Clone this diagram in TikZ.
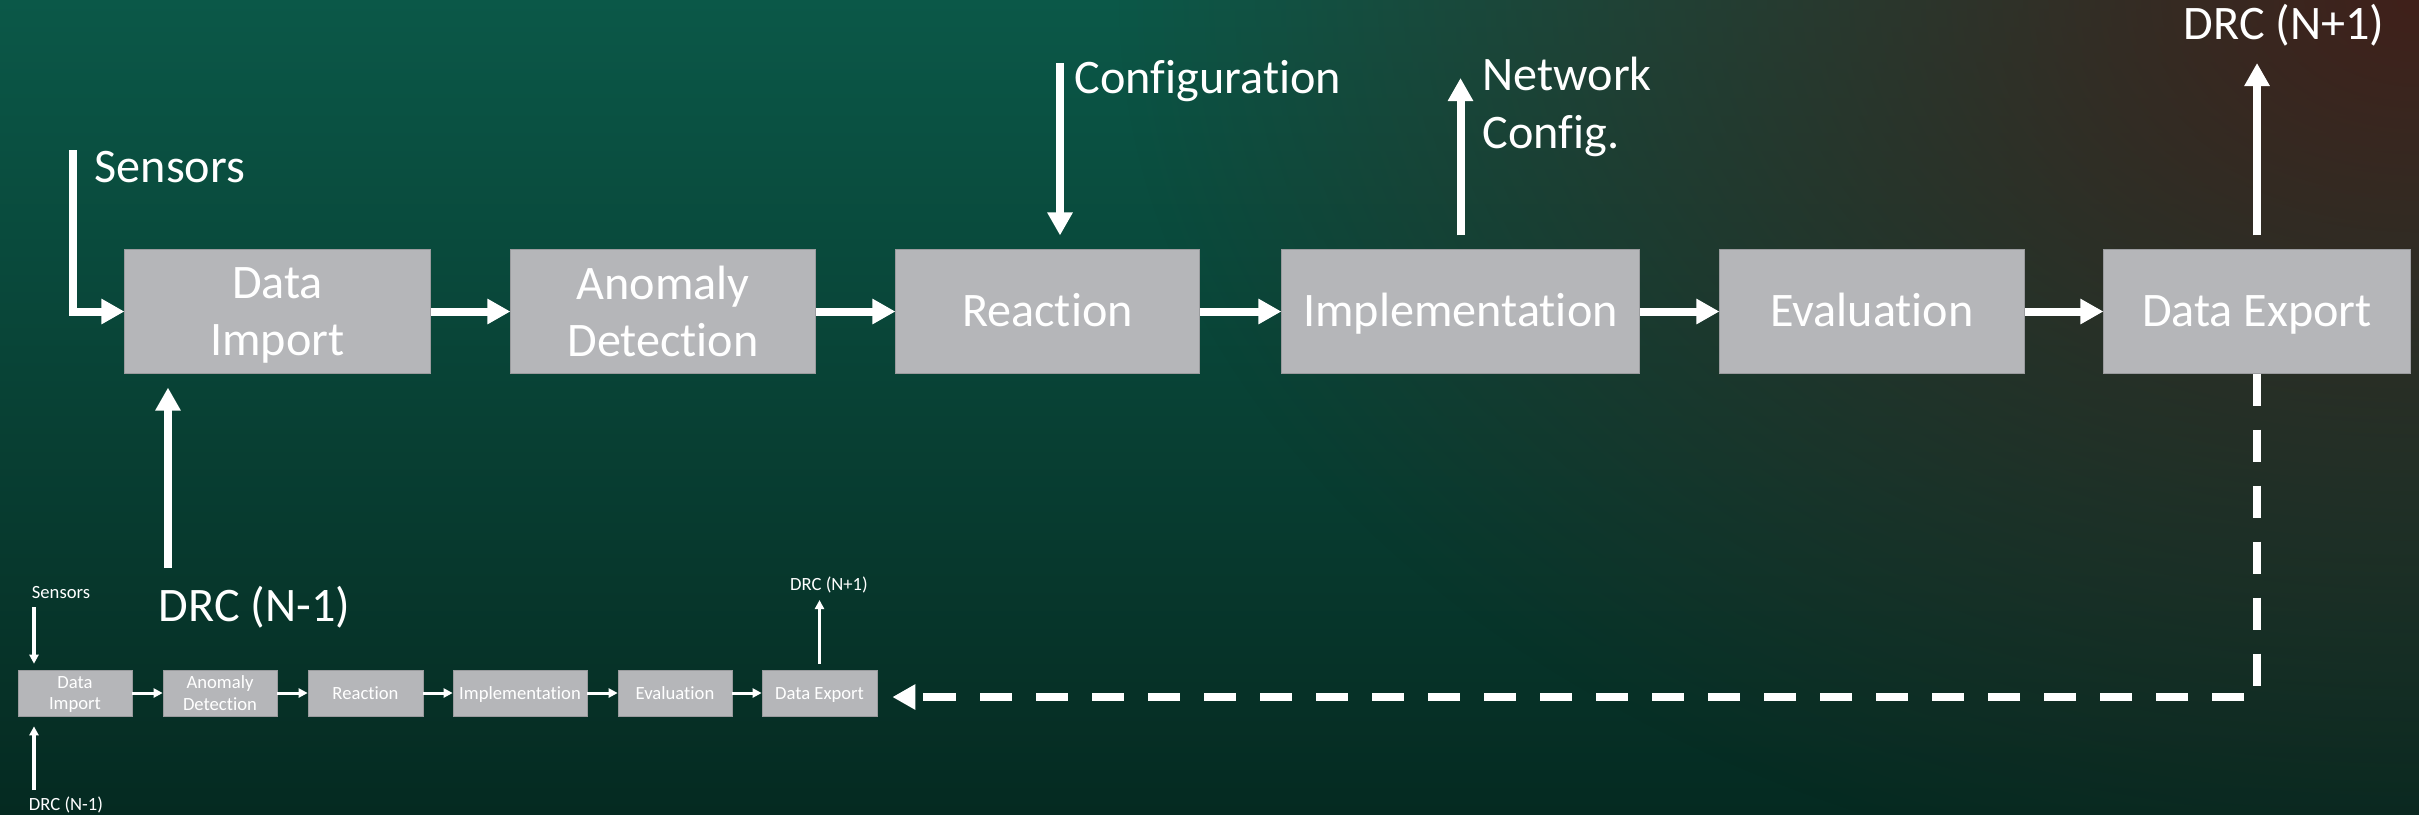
\documentclass[tikz,border=0pt]{standalone}
\usepackage{fontspec}
\setmainfont{Carlito}[Ligatures=NoCommon]
\usetikzlibrary{arrows.meta,fadings,calc}

\definecolor{bgtop}{HTML}{0B5848}
\definecolor{bgmid}{HTML}{103A31}
\definecolor{bgbot}{HTML}{052A21}
\definecolor{glowred}{HTML}{40201A}
\definecolor{boxgray}{HTML}{B5B6B9}
\definecolor{boxedge}{HTML}{9A9B9E}

\tikzfading[name=softglow, inner color=transparent!0, outer color=transparent!100]

\begin{document}
\begin{tikzpicture}[x=0.01cm, y=-0.01cm,
  bigbox/.style={fill=boxgray, draw=boxedge, line width=0.01cm, minimum height=1.23cm,
    inner sep=0, text=white, align=center, font=\fontsize{13.7}{16.2}\selectfont},
  smallbox/.style={fill=boxgray, draw=boxedge, line width=0.006cm, minimum height=0.46cm,
    inner sep=0, text=white, align=center, font=\fontsize{5.3}{6.2}\selectfont},
  bigline/.style={text height=11.8pt, text depth=3pt},
  smallline/.style={text height=4.58pt, text depth=1.17pt},
  twoline/.style={text depth=0pt},
  bigarrow/.style={draw=white, line width=0.08cm, -{Triangle[length=0.23cm,width=0.24cm]}},
  smallarrow/.style={draw=white, line width=0.03cm, -{Triangle[length=0.09cm,width=0.09cm]}},
  biglabel/.style={text=white, inner sep=0, font=\fontsize{13.7}{16.2}\selectfont},
  smalllabel/.style={text=white, inner sep=0, font=\fontsize{5.3}{6.2}\selectfont}]

  % background
  \useasboundingbox (0,0) rectangle (2419,814);
  \shade[top color=bgtop, middle color=bgmid, bottom color=bgbot] (0,0) rectangle (2419,814);
  \begin{scope}
    \clip (0,0) rectangle (2419,814);
    \fill[glowred, path fading=softglow] (2419,0) ellipse [x radius=1300, y radius=900];
  \end{scope}

  % main process chain
  \node[bigbox, twoline, minimum width=3.05cm] (DI) at (277.5,311.5) {Data\\Import};
  \node[bigbox, twoline, minimum width=3.04cm] (AD) at (663,311.5) {Anomaly\\Detection};
  \node[bigbox, bigline, minimum width=3.03cm] (Re) at (1047.5,311.5) {Reaction};
  \node[bigbox, bigline, minimum width=3.57cm] (Im) at (1460.5,311.5) {Implementation};
  \node[bigbox, bigline, minimum width=3.04cm] (Ev) at (1872,311.5) {Evaluation};
  \node[bigbox, bigline, minimum width=3.06cm] (DE) at (2257,311.5) {Data Export};

  \draw[bigarrow] (DI) -- (AD);
  \draw[bigarrow] (AD) -- (Re);
  \draw[bigarrow] (Re) -- (Im);
  \draw[bigarrow] (Im) -- (Ev);
  \draw[bigarrow] (Ev) -- (DE);

  % inputs and outputs
  \node[biglabel, anchor=base west] (sensTxt) at (94,182) {Sensors};
  \coordinate (sensTop) at (73,150);
  \draw[bigarrow] (sensTop) |- (DI.west);

  \node[biglabel, anchor=base west] (prevTxt) at (158,621) {DRC (N-1)};
  \coordinate (prevIn) at (168,568);
  \draw[bigarrow, shorten >=0.14cm] (prevIn) -- (prevIn |- DI.south);

  \node[biglabel, anchor=base west] (cfgTxt) at (1074,93) {Configuration};
  \coordinate (cfgTop) at (1060,63);
  \draw[bigarrow, shorten >=0.14cm] (cfgTop) -- (cfgTop |- Re.north);

  \node[biglabel, anchor=base west] (netTxtA) at (1482,90) {Network};
  \node[biglabel, anchor=base west] (netTxtB) at (1482,148) {Config.};
  \coordinate (netTip) at (1460.5,78);
  \draw[bigarrow, shorten <=0.14cm] (Im.north) -- (netTip);

  \node[biglabel, anchor=base west] (nextTxt) at (2183,39) {DRC (N+1)};
  \coordinate (nextTip) at (2257,63);
  \draw[bigarrow, shorten <=0.14cm] (DE.north) -- (nextTip);

  % miniature of the chain
  \node[smallbox, twoline, minimum width=1.14cm] (sDI) at (75,693) {Data\\Import};
  \node[smallbox, twoline, minimum width=1.14cm] (sAD) at (220,693) {Anomaly\\Detection};
  \node[smallbox, smallline, minimum width=1.15cm] (sRe) at (365.5,693) {Reaction};
  \node[smallbox, smallline, minimum width=1.34cm] (sIm) at (520,693) {Implementation};
  \node[smallbox, smallline, minimum width=1.14cm] (sEv) at (675,693) {Evaluation};
  \node[smallbox, smallline, minimum width=1.15cm] (sDE) at (819.5,693) {Data Export};

  \draw[smallarrow] (sDI) -- (sAD);
  \draw[smallarrow] (sAD) -- (sRe);
  \draw[smallarrow] (sRe) -- (sIm);
  \draw[smallarrow] (sIm) -- (sEv);
  \draw[smallarrow] (sEv) -- (sDE);

  \node[smalllabel] (sSensTxt) at (61,593) {Sensors};
  \coordinate (sSensTop) at (34,607);
  \draw[smallarrow, shorten >=0.06cm] (sSensTop) -- (sSensTop |- sDI.north);

  \node[smalllabel] (sPrevTxt) at (66,805) {DRC (N-1)};
  \coordinate (sPrevIn) at (34,790);
  \draw[smallarrow, shorten >=0.10cm] (sPrevIn) -- (sPrevIn |- sDI.south);

  \node[smalllabel] (sNextTxt) at (829,585) {DRC (N+1)};
  \coordinate (sNextTip) at (819.5,600);
  \draw[smallarrow, shorten <=0.06cm] (sDE.north) -- (sNextTip);

  % feedback loop into the next cycle
  \coordinate (loopCorner) at (2257,697);
  \draw[bigarrow, dash pattern=on 0.32cm off 0.24cm, shorten >=0.15cm]
    (DE.south) -- (loopCorner) -- (loopCorner -| sDE.east);
\end{tikzpicture}
\end{document}
